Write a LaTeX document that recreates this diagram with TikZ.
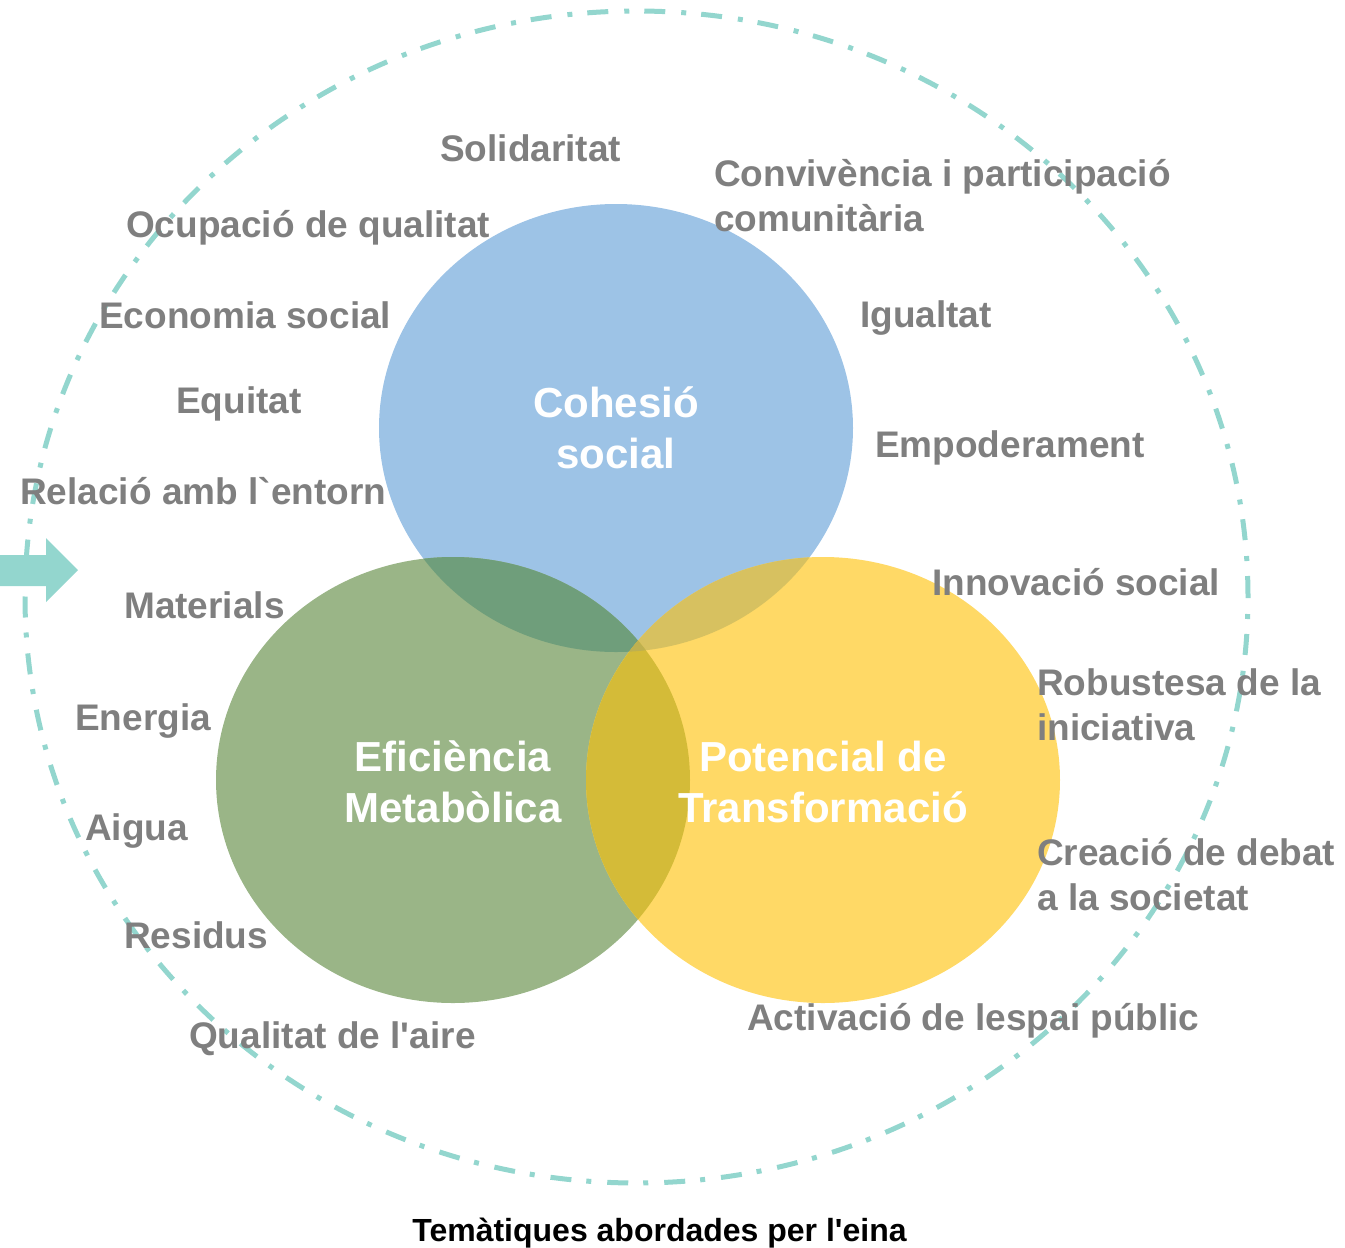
\documentclass[tikz,border=0pt]{standalone}
\usepackage{fontspec}
\setmainfont{Liberation Sans}
\definecolor{teal1}{RGB}{147,214,206}
\definecolor{cblue}{RGB}{157,195,230}
\definecolor{cgreen}{RGB}{154,181,135}
\definecolor{cyellow}{RGB}{255,217,102}
\definecolor{bg}{RGB}{111,158,123}
\definecolor{by}{RGB}{215,193,96}
\definecolor{gy}{RGB}{212,187,56}
\definecolor{bgy}{RGB}{190,176,80}
\definecolor{tgray}{RGB}{127,127,127}
\tikzset{
  theme/.style={font=\bfseries\fontsize{37}{45}\selectfont, text=tgray, inner sep=0pt, anchor=base west, align=left},
  big/.style={font=\bfseries\fontsize{42}{51}\selectfont, text=white, inner sep=0pt, anchor=base, align=center},
  ring/.style={draw=teal1, line width=5pt, dash pattern=on 21pt off 15pt on 5pt off 16pt}
}
\begin{document}
\begin{tikzpicture}[x=1pt,y=-1pt]
\useasboundingbox (0,0) rectangle (1345,1248);
% outer dash-dot ellipse
\draw[ring] (636.5,597) ellipse [x radius=611.5pt, y radius=586pt];
% arrow
\fill[teal1] (0,555) -- (46,555) -- (46,538) -- (78,570) -- (46,602) -- (46,586) -- (0,586) -- cycle;
% circles
\fill[cblue] (616,428) ellipse [x radius=237pt, y radius=224pt];
\fill[cgreen] (453,780) ellipse [x radius=237pt, y radius=223pt];
\fill[cyellow] (823,780) ellipse [x radius=237pt, y radius=223pt];
% overlaps
\begin{scope}
  \clip (616,428) ellipse [x radius=237pt, y radius=224pt];
  \fill[bg] (453,780) ellipse [x radius=237pt, y radius=223pt];
  \fill[by] (823,780) ellipse [x radius=237pt, y radius=223pt];
\end{scope}
\begin{scope}
  \clip (453,780) ellipse [x radius=237pt, y radius=223pt];
  \fill[gy] (823,780) ellipse [x radius=237pt, y radius=223pt];
  \clip (823,780) ellipse [x radius=237pt, y radius=223pt];
  \fill[bgy] (616,428) ellipse [x radius=237pt, y radius=224pt];
\end{scope}
% circle labels (anchor base = last line)
\node[big] (cs) at (616,468) {Cohesió\\social};
\node[big] (em) at (453,822) {Eficiència\\Metabòlica};
\node[big] (pt) at (823,822) {Potencial de\\Transformació};
% themes
\node[theme] (t1) at (440,161) {Solidaritat};
\node[theme] (t2) at (126,237) {Ocupació de qualitat};
\node[theme] (t3) at (99,328) {Economia social};
\node[theme] (t4) at (176,413) {Equitat};
\node[theme] (t5) at (20,504) {Relació amb l\textasciigrave entorn};
\node[theme] (t6) at (124,618) {Materials};
\node[theme] (t7) at (75,730) {Energia};
\node[theme] (t8) at (85,840) {Aigua};
\node[theme] (t9) at (124,948) {Residus};
\node[theme] (t10) at (189,1048) {Qualitat de l\textquotesingle aire};
\node[theme] (t11) at (714,231) {Convivència i participació\\comunitària};
\node[theme] (t12) at (860,327) {Igualtat};
\node[theme] (t13) at (875,457) {Empoderament};
\node[theme] (t14) at (932,595) {Innovació social};
\node[theme] (t15) at (1037,740) {Robustesa de la\\iniciativa};
\node[theme] (t16) at (1037,910) {Creació de debat\\a la societat};
\node[theme] (t17) at (747,1030) {Activació de lespai públic};
% title
\node[font=\bfseries\fontsize{32}{38}\selectfont, text=black, inner sep=0pt, anchor=base] (title) at (659.5,1241) {Temàtiques abordades per l\textquotesingle eina};
\end{tikzpicture}
\end{document}
